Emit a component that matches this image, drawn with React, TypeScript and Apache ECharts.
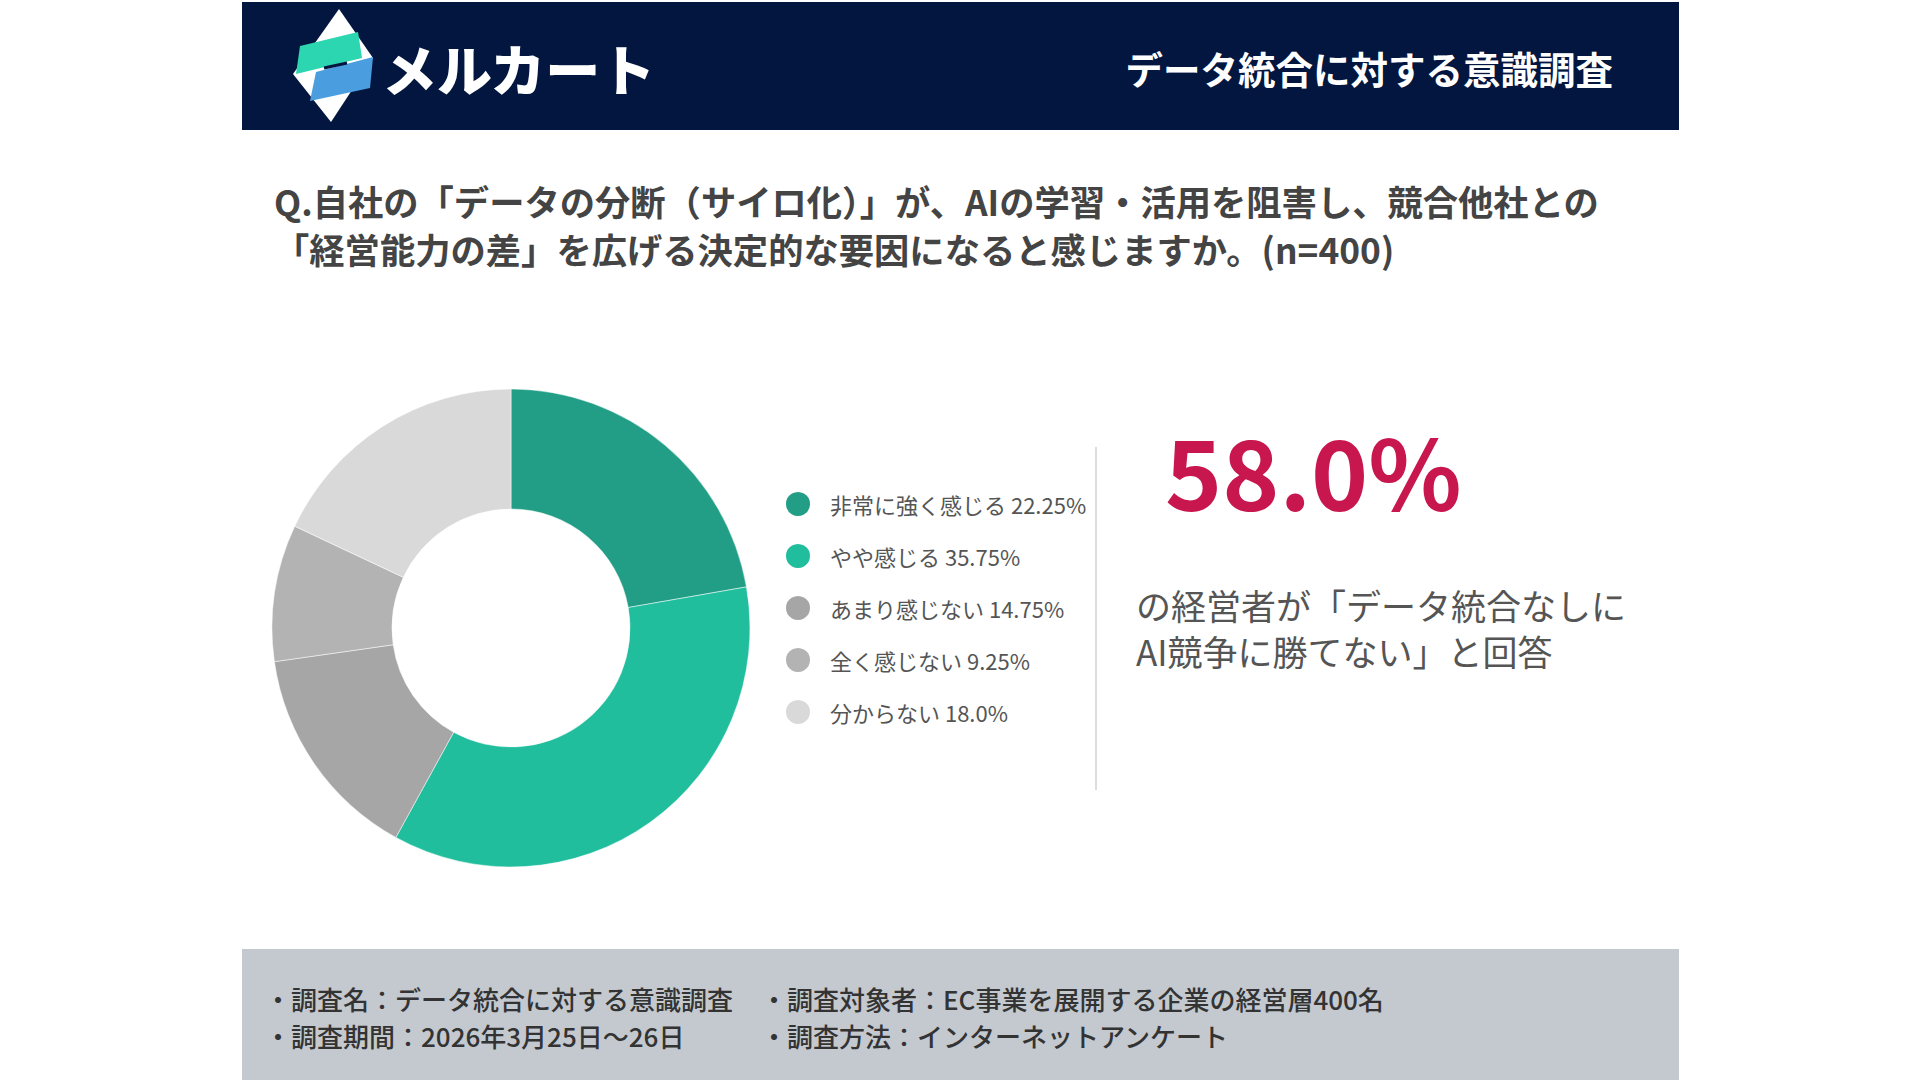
import React, { useEffect, useRef } from "react";
import * as echarts from "echarts";

const categories = ["非常に強く感じる", "やや感じる", "あまり感じない", "全く感じない", "分からない"];
const values = [22.25, 35.75, 14.75, 9.25, 18.0];
const valueLabels = ["22.25%", "35.75%", "14.75%", "9.25%", "18.0%"];
const colors = ["#229E86", "#21BE9E", "#A6A6A6", "#B3B3B3", "#D9D9D9"];

const headline = "58.0%";
const subLines = ["の経営者が「データ統合なしに", "AI競争に勝てない」と回答"];
const questionLines = [
  "Q.自社の「データの分断（サイロ化）」が、AIの学習・活用を阻害し、競合他社との",
  "「経営能力の差」を広げる決定的な要因になると感じますか。(n=400)",
];
const footerLeft = ["・調査名：データ統合に対する意識調査", "・調査期間：2026年3月25日～26日"];
const footerRight = ["・調査対象者：EC事業を展開する企業の経営層400名", "・調査方法：インターネットアンケート"];

const FONT = "'Noto Sans CJK JP', 'Noto Sans', sans-serif";

export default function App() {
  const ref = useRef<HTMLDivElement>(null);
  useEffect(() => {
    if (!ref.current) return;
    const chart = echarts.init(ref.current, null, { renderer: "svg" });
    const labelMap: Record<string, string> = {};
    categories.forEach((c, i) => (labelMap[c] = valueLabels[i]));

    const graphic: any[] = [
      { type: "rect", shape: { x: 242, y: 2, width: 1437, height: 128 }, style: { fill: "#03163F" }, z: 0 },
      { type: "rect", shape: { x: 242, y: 949, width: 1437, height: 131 }, style: { fill: "#C4C9D0" }, z: 0 },
      // logo
      { type: "polygon", shape: { points: [[339, 9], [373, 58], [331, 122], [293, 74]] }, style: { fill: "#FFFFFF" }, z: 1 },
      { type: "polygon", shape: { points: [[300, 46], [358, 32], [362, 58], [296, 74]] }, style: { fill: "#2BD6B0" }, z: 2 },
      { type: "polygon", shape: { points: [[316, 72], [373, 57], [370, 88], [310, 101]] }, style: { fill: "#4A9EE0" }, z: 2 },
      { type: "line", shape: { x1: 324, y1: 68, x2: 347, y2: 63 }, style: { stroke: "#03163F", lineWidth: 3 }, z: 3 },
      {
        type: "text", x: 382, y: 67,
        style: { text: "メルカート", fill: "#FFFFFF", font: `900 55px ${FONT}`, textVerticalAlign: "middle" }, z: 3,
      },
      {
        type: "text", x: 1613, y: 67,
        style: { text: "データ統合に対する意識調査", fill: "#FFFFFF", font: `bold 37.5px ${FONT}`, textAlign: "right", textVerticalAlign: "middle" }, z: 3,
      },
      ...questionLines.map((t, i) => ({
        type: "text", x: 274, y: 200 + i * 48,
        style: { text: t, fill: "#444444", font: `bold 35.3px ${FONT}`, textVerticalAlign: "middle" },
      })),
      { type: "line", shape: { x1: 1096, y1: 447, x2: 1096, y2: 790 }, style: { stroke: "#D0D0D0", lineWidth: 1.5 } },
      {
        type: "text", x: 1165, y: 517,
        style: { text: headline, fill: "#C8164F", font: `bold 97px ${FONT}`, textVerticalAlign: "bottom" },
      },
      ...subLines.map((t, i) => ({
        type: "text", x: 1136, y: 604 + i * 46,
        style: { text: t, fill: "#555555", font: `normal 35px ${FONT}`, textVerticalAlign: "middle" },
      })),
      ...footerLeft.map((t, i) => ({
        type: "text", x: 265, y: 998 + i * 37,
        style: { text: t, fill: "#333333", font: `500 26px ${FONT}`, textVerticalAlign: "middle" }, z: 3,
      })),
      ...footerRight.map((t, i) => ({
        type: "text", x: 761, y: 998 + i * 37,
        style: { text: t, fill: "#333333", font: `500 26px ${FONT}`, textVerticalAlign: "middle" }, z: 3,
      })),
    ];

    chart.setOption({
      animation: false,
      backgroundColor: "#FFFFFF",
      color: colors,
      legend: {
        orient: "vertical",
        left: 779,
        top: 485,
        icon: "circle",
        itemWidth: 26,
        itemHeight: 26,
        itemGap: 24,
        data: categories,
        formatter: (name: string) => `${name} ${labelMap[name]}`,
        textStyle: { fontFamily: FONT, fontSize: 22, color: "#555555", padding: [0, 0, 0, 14] },
        selectedMode: false,
      },
      series: [
        {
          type: "pie",
          center: [511, 628],
          radius: [119, 239],
          startAngle: 90,
          clockwise: true,
          label: { show: false },
          labelLine: { show: false },
          itemStyle: { borderColor: "#FFFFFF", borderWidth: 0.5 },
          emphasis: { disabled: true },
          data: categories.map((c, i) => ({ name: c, value: values[i] })),
        },
      ],
      graphic,
    });
    return () => chart.dispose();
  }, []);
  return <div ref={ref} style={{ position: "fixed", left: 0, top: 0, width: 1920, height: 1080 }} />;
}
